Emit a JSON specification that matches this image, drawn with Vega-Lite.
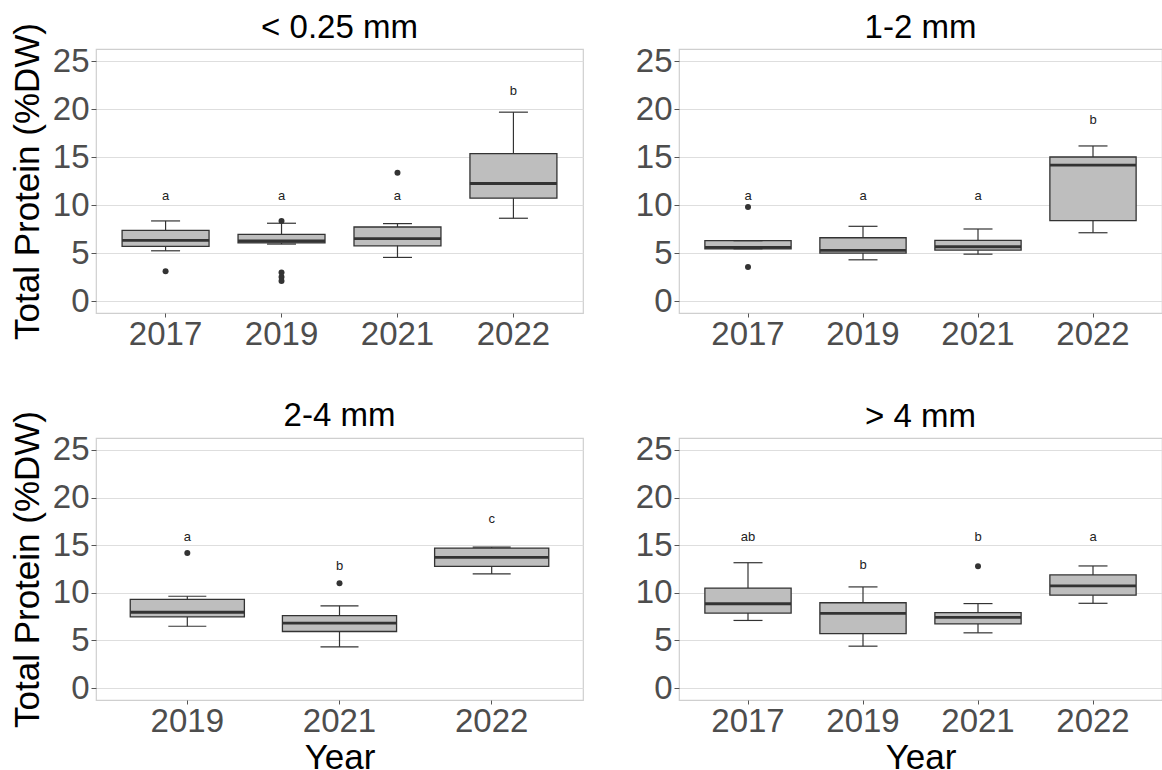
{
  "$schema": "https://vega.github.io/schema/vega-lite/v6.json",
  "background": "white",
  "padding": {"left": 9, "top": 11, "right": 0, "bottom": 0},
  "datasets": {
    "boxes": [
      {"panel": "p1", "year": "2017", "lower": 5.23, "q1": 5.69, "median": 6.32, "q3": 7.36, "upper": 8.34, "letter": "a", "letter_y": 10.9},
      {"panel": "p1", "year": "2019", "lower": 5.93, "q1": 6.05, "median": 6.25, "q3": 6.94, "upper": 8.1, "letter": "a", "letter_y": 10.9},
      {"panel": "p1", "year": "2021", "lower": 4.54, "q1": 5.75, "median": 6.49, "q3": 7.71, "upper": 8.06, "letter": "a", "letter_y": 10.9},
      {"panel": "p1", "year": "2022", "lower": 8.62, "q1": 10.71, "median": 12.24, "q3": 15.35, "upper": 19.67, "letter": "b", "letter_y": 21.9},
      {"panel": "p2", "year": "2017", "lower": 5.44, "q1": 5.44, "median": 5.58, "q3": 6.28, "upper": 6.28, "letter": "a", "letter_y": 10.9},
      {"panel": "p2", "year": "2019", "lower": 4.29, "q1": 4.99, "median": 5.27, "q3": 6.59, "upper": 7.78, "letter": "a", "letter_y": 10.9},
      {"panel": "p2", "year": "2021", "lower": 4.88, "q1": 5.3, "median": 5.65, "q3": 6.32, "upper": 7.5, "letter": "a", "letter_y": 10.9},
      {"panel": "p2", "year": "2022", "lower": 7.11, "q1": 8.37, "median": 14.16, "q3": 15.0, "upper": 16.15, "letter": "b", "letter_y": 18.9},
      {"panel": "p3", "year": "2019", "lower": 6.49, "q1": 7.47, "median": 7.96, "q3": 9.32, "upper": 9.64, "letter": "a", "letter_y": 15.85},
      {"panel": "p3", "year": "2021", "lower": 4.33, "q1": 5.94, "median": 6.81, "q3": 7.61, "upper": 8.63, "letter": "b", "letter_y": 12.85},
      {"panel": "p3", "year": "2022", "lower": 11.98, "q1": 12.78, "median": 13.72, "q3": 14.7, "upper": 14.8, "letter": "c", "letter_y": 17.7},
      {"panel": "p4", "year": "2017", "lower": 7.1, "q1": 7.87, "median": 8.85, "q3": 10.5, "upper": 13.16, "letter": "ab", "letter_y": 15.9},
      {"panel": "p4", "year": "2019", "lower": 4.4, "q1": 5.72, "median": 7.85, "q3": 8.96, "upper": 10.62, "letter": "b", "letter_y": 12.9},
      {"panel": "p4", "year": "2021", "lower": 5.8, "q1": 6.74, "median": 7.43, "q3": 7.92, "upper": 8.87, "letter": "b", "letter_y": 15.9},
      {"panel": "p4", "year": "2022", "lower": 8.9, "q1": 9.75, "median": 10.73, "q3": 11.88, "upper": 12.82, "letter": "a", "letter_y": 15.9}
    ],
    "outliers": [
      {"panel": "p1", "year": "2017", "value": 3.1},
      {"panel": "p1", "year": "2019", "value": 8.34},
      {"panel": "p1", "year": "2019", "value": 2.97},
      {"panel": "p1", "year": "2019", "value": 2.51},
      {"panel": "p1", "year": "2019", "value": 2.09},
      {"panel": "p1", "year": "2021", "value": 13.36},
      {"panel": "p2", "year": "2017", "value": 9.8},
      {"panel": "p2", "year": "2017", "value": 3.53},
      {"panel": "p3", "year": "2019", "value": 14.18},
      {"panel": "p3", "year": "2021", "value": 11.0},
      {"panel": "p4", "year": "2021", "value": 12.78}
    ]
  },
  "columns": 2,
  "bounds": "flush",
  "spacing": {"row": 125, "column": 96},
  "concat": [
    {
      "width": 487, "height": 264,
      "title": {"text": "< 0.25 mm", "offset": -23},
      "data": {"name": "boxes"},
      "transform": [{"filter": "datum.panel === 'p1'"}],
      "encoding": {"x": {"field": "year", "type": "ordinal", "title": null, "scale": {"domain": ["2017", "2019", "2021", "2022"], "paddingInner": 0, "paddingOuter": 0.1}}},
      "layer": [
        {"mark": {"type": "rule", "color": "#333333", "strokeWidth": 1.2}, "encoding": {"y": {"field": "lower", "type": "quantitative", "title": "Total Protein (%DW)", "scale": {"domain": [-1.25, 26.25], "nice": false, "zero": false}, "axis": {"values": [0, 2.5, 5, 7.5, 10, 12.5, 15, 17.5, 20, 22.5, 25], "labelExpr": "datum.value % 5 === 0 ? datum.label : ''", "gridColor": {"condition": {"test": "datum.value % 5 === 0", "value": "#DEDEDE"}, "value": "#F1F1F1"}, "tickOpacity": {"condition": {"test": "datum.value % 5 === 0", "value": 1}, "value": 0}}}, "y2": {"field": "upper"}}},
        {"mark": {"type": "bar", "fill": "#BEBEBE", "stroke": "#333333", "strokeWidth": 1.3, "width": {"band": 0.75}}, "encoding": {"y": {"field": "q1", "type": "quantitative", "title": "Total Protein (%DW)"}, "y2": {"field": "q3"}}},
        {"mark": {"type": "tick", "color": "#333333", "opacity": 1, "thickness": 2.8, "size": 87}, "encoding": {"y": {"field": "median", "type": "quantitative", "title": "Total Protein (%DW)"}}},
        {"mark": {"type": "tick", "color": "#333333", "opacity": 1, "thickness": 1.2, "size": 29}, "encoding": {"y": {"field": "lower", "type": "quantitative", "title": "Total Protein (%DW)"}}},
        {"mark": {"type": "tick", "color": "#333333", "opacity": 1, "thickness": 1.2, "size": 29}, "encoding": {"y": {"field": "upper", "type": "quantitative", "title": "Total Protein (%DW)"}}},
        {"data": {"name": "outliers"}, "transform": [{"filter": "datum.panel === 'p1'"}], "mark": {"type": "circle", "color": "#333333", "opacity": 1, "size": 36}, "encoding": {"y": {"field": "value", "type": "quantitative", "title": "Total Protein (%DW)"}}},
        {"mark": {"type": "text", "fontSize": 13, "color": "#222222", "font": "Liberation Sans"}, "encoding": {"y": {"field": "letter_y", "type": "quantitative", "title": "Total Protein (%DW)"}, "text": {"field": "letter"}}}
      ]
    },
    {
      "width": 483, "height": 264,
      "title": {"text": "1-2 mm", "offset": 0},
      "data": {"name": "boxes"},
      "transform": [{"filter": "datum.panel === 'p2'"}],
      "encoding": {"x": {"field": "year", "type": "ordinal", "title": null, "scale": {"domain": ["2017", "2019", "2021", "2022"], "paddingInner": 0, "paddingOuter": 0.1}}},
      "layer": [
        {"mark": {"type": "rule", "color": "#333333", "strokeWidth": 1.2}, "encoding": {"y": {"field": "lower", "type": "quantitative", "title": null, "scale": {"domain": [-1.25, 26.25], "nice": false, "zero": false}, "axis": {"values": [0, 2.5, 5, 7.5, 10, 12.5, 15, 17.5, 20, 22.5, 25], "labelExpr": "datum.value % 5 === 0 ? datum.label : ''", "gridColor": {"condition": {"test": "datum.value % 5 === 0", "value": "#DEDEDE"}, "value": "#F1F1F1"}, "tickOpacity": {"condition": {"test": "datum.value % 5 === 0", "value": 1}, "value": 0}}}, "y2": {"field": "upper"}}},
        {"mark": {"type": "bar", "fill": "#BEBEBE", "stroke": "#333333", "strokeWidth": 1.3, "width": {"band": 0.75}}, "encoding": {"y": {"field": "q1", "type": "quantitative", "title": null}, "y2": {"field": "q3"}}},
        {"mark": {"type": "tick", "color": "#333333", "opacity": 1, "thickness": 2.8, "size": 86}, "encoding": {"y": {"field": "median", "type": "quantitative", "title": null}}},
        {"mark": {"type": "tick", "color": "#333333", "opacity": 1, "thickness": 1.2, "size": 29}, "encoding": {"y": {"field": "lower", "type": "quantitative", "title": null}}},
        {"mark": {"type": "tick", "color": "#333333", "opacity": 1, "thickness": 1.2, "size": 29}, "encoding": {"y": {"field": "upper", "type": "quantitative", "title": null}}},
        {"data": {"name": "outliers"}, "transform": [{"filter": "datum.panel === 'p2'"}], "mark": {"type": "circle", "color": "#333333", "opacity": 1, "size": 36}, "encoding": {"y": {"field": "value", "type": "quantitative", "title": null}}},
        {"mark": {"type": "text", "fontSize": 13, "color": "#222222", "font": "Liberation Sans"}, "encoding": {"y": {"field": "letter_y", "type": "quantitative", "title": null}, "text": {"field": "letter"}}}
      ]
    },
    {
      "width": 487, "height": 262,
      "title": {"text": "2-4 mm", "offset": -23},
      "data": {"name": "boxes"},
      "transform": [{"filter": "datum.panel === 'p3'"}],
      "encoding": {"x": {"field": "year", "type": "ordinal", "title": "Year", "scale": {"domain": ["2019", "2021", "2022"], "paddingInner": 0, "paddingOuter": 0.1}}},
      "layer": [
        {"mark": {"type": "rule", "color": "#333333", "strokeWidth": 1.2}, "encoding": {"y": {"field": "lower", "type": "quantitative", "title": "Total Protein (%DW)", "scale": {"domain": [-1.25, 26.25], "nice": false, "zero": false}, "axis": {"values": [0, 2.5, 5, 7.5, 10, 12.5, 15, 17.5, 20, 22.5, 25], "labelExpr": "datum.value % 5 === 0 ? datum.label : ''", "gridColor": {"condition": {"test": "datum.value % 5 === 0", "value": "#DEDEDE"}, "value": "#F1F1F1"}, "tickOpacity": {"condition": {"test": "datum.value % 5 === 0", "value": 1}, "value": 0}}}, "y2": {"field": "upper"}}},
        {"mark": {"type": "bar", "fill": "#BEBEBE", "stroke": "#333333", "strokeWidth": 1.3, "width": {"band": 0.75}}, "encoding": {"y": {"field": "q1", "type": "quantitative", "title": "Total Protein (%DW)"}, "y2": {"field": "q3"}}},
        {"mark": {"type": "tick", "color": "#333333", "opacity": 1, "thickness": 2.8, "size": 114}, "encoding": {"y": {"field": "median", "type": "quantitative", "title": "Total Protein (%DW)"}}},
        {"mark": {"type": "tick", "color": "#333333", "opacity": 1, "thickness": 1.2, "size": 38}, "encoding": {"y": {"field": "lower", "type": "quantitative", "title": "Total Protein (%DW)"}}},
        {"mark": {"type": "tick", "color": "#333333", "opacity": 1, "thickness": 1.2, "size": 38}, "encoding": {"y": {"field": "upper", "type": "quantitative", "title": "Total Protein (%DW)"}}},
        {"data": {"name": "outliers"}, "transform": [{"filter": "datum.panel === 'p3'"}], "mark": {"type": "circle", "color": "#333333", "opacity": 1, "size": 36}, "encoding": {"y": {"field": "value", "type": "quantitative", "title": "Total Protein (%DW)"}}},
        {"mark": {"type": "text", "fontSize": 13, "color": "#222222", "font": "Liberation Sans"}, "encoding": {"y": {"field": "letter_y", "type": "quantitative", "title": "Total Protein (%DW)"}, "text": {"field": "letter"}}}
      ]
    },
    {
      "width": 483, "height": 262,
      "title": {"text": "> 4 mm", "offset": 0},
      "data": {"name": "boxes"},
      "transform": [{"filter": "datum.panel === 'p4'"}],
      "encoding": {"x": {"field": "year", "type": "ordinal", "title": "Year", "scale": {"domain": ["2017", "2019", "2021", "2022"], "paddingInner": 0, "paddingOuter": 0.1}}},
      "layer": [
        {"mark": {"type": "rule", "color": "#333333", "strokeWidth": 1.2}, "encoding": {"y": {"field": "lower", "type": "quantitative", "title": null, "scale": {"domain": [-1.25, 26.25], "nice": false, "zero": false}, "axis": {"values": [0, 2.5, 5, 7.5, 10, 12.5, 15, 17.5, 20, 22.5, 25], "labelExpr": "datum.value % 5 === 0 ? datum.label : ''", "gridColor": {"condition": {"test": "datum.value % 5 === 0", "value": "#DEDEDE"}, "value": "#F1F1F1"}, "tickOpacity": {"condition": {"test": "datum.value % 5 === 0", "value": 1}, "value": 0}}}, "y2": {"field": "upper"}}},
        {"mark": {"type": "bar", "fill": "#BEBEBE", "stroke": "#333333", "strokeWidth": 1.3, "width": {"band": 0.75}}, "encoding": {"y": {"field": "q1", "type": "quantitative", "title": null}, "y2": {"field": "q3"}}},
        {"mark": {"type": "tick", "color": "#333333", "opacity": 1, "thickness": 2.8, "size": 86}, "encoding": {"y": {"field": "median", "type": "quantitative", "title": null}}},
        {"mark": {"type": "tick", "color": "#333333", "opacity": 1, "thickness": 1.2, "size": 29}, "encoding": {"y": {"field": "lower", "type": "quantitative", "title": null}}},
        {"mark": {"type": "tick", "color": "#333333", "opacity": 1, "thickness": 1.2, "size": 29}, "encoding": {"y": {"field": "upper", "type": "quantitative", "title": null}}},
        {"data": {"name": "outliers"}, "transform": [{"filter": "datum.panel === 'p4'"}], "mark": {"type": "circle", "color": "#333333", "opacity": 1, "size": 36}, "encoding": {"y": {"field": "value", "type": "quantitative", "title": null}}},
        {"mark": {"type": "text", "fontSize": 13, "color": "#222222", "font": "Liberation Sans"}, "encoding": {"y": {"field": "letter_y", "type": "quantitative", "title": null}, "text": {"field": "letter"}}}
      ]
    }
  ],
  "config": {
    "font": "Liberation Sans",
    "view": {"stroke": "#CFCFCF", "strokeWidth": 1.2},
    "axis": {"domain": false, "labelFont": "Liberation Sans", "labelFontSize": 33, "labelColor": "#4D4D4D", "titleFont": "Liberation Sans", "titleFontSize": 35, "titleFontWeight": "normal", "titleColor": "#000000", "tickColor": "#555555", "tickWidth": 1, "labelOverlap": false},
    "axisX": {"labelAngle": 0, "tickSize": 4, "labelPadding": 1, "grid": false, "titlePadding": 2},
    "axisY": {"tickSize": 5, "labelPadding": 2, "titlePadding": 7, "grid": true},
    "title": {"font": "Liberation Sans", "fontSize": 33, "fontWeight": "normal", "color": "#000000", "anchor": "middle", "frame": "group", "baseline": "alphabetic"}
  }
}
